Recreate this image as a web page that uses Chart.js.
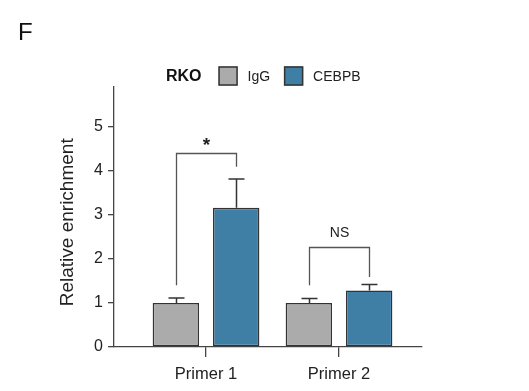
<!DOCTYPE html>
<html>
<head>
<meta charset="utf-8">
<script src="https://cdn.jsdelivr.net/npm/chart.js@4/dist/chart.umd.min.js"></script>
<style>
  html, body { margin: 0; padding: 0; background: #ffffff; }
  #wrap { width: 529px; height: 391px; position: relative; }
</style>
</head>
<body>
<div id="wrap"><canvas id="c" width="529" height="391"></canvas></div>
<script>
// ---- data ----
const panelLabel = "F";
const legendTitle = "RKO";
const categories = ["Primer 1", "Primer 2"];
const seriesNames = ["IgG", "CEBPB"];
const igg = [1.0, 1.0];
const cebpb = [3.16, 1.28];
const iggErr = [0.11, 0.10];
const cebpbErr = [0.65, 0.14];
const yTicks = [0, 1, 2, 3, 4, 5];
// brackets: [category index, left foot, top, right foot, label]
const bracketCat = [0, 1];
const bracketLeft = [1.40, 1.40];
const bracketTop = [4.40, 2.26];
const bracketRight = [4.09, 1.59];
const bracketLabel = ["*", "NS"];

const colors = ["#ababab", "#3f7fa5"];
const edge = "#333333";
const FONT = "'Liberation Sans', Arial, Helvetica, sans-serif";

const errs = [iggErr, cebpbErr];

const plugin = {
  id: 'extras',
  afterDatasetsDraw(chart) {
    const ctx = chart.ctx;
    const ys = chart.scales.y;
    ctx.save();
    // error bars
    ctx.strokeStyle = edge;
    ctx.lineWidth = 1.5;
    chart.data.datasets.forEach((ds, di) => {
      const meta = chart.getDatasetMeta(di);
      meta.data.forEach((el, i) => {
        const v = ds.data[i].y;
        const top = ys.getPixelForValue(v + errs[di][i]);
        const x = Math.round(el.x) + 0.5;
        ctx.beginPath();
        ctx.moveTo(x, el.y);
        ctx.lineTo(x, top);
        ctx.moveTo(x - 8, top);
        ctx.lineTo(x + 8, top);
        ctx.stroke();
      });
    });
    // brackets
    ctx.strokeStyle = '#555555';
    ctx.lineWidth = 1.3;
    ctx.fillStyle = '#222222';
    ctx.textAlign = 'center';
    ctx.textBaseline = 'alphabetic';
    bracketCat.forEach((ci, k) => {
      const a = chart.getDatasetMeta(0).data[ci];
      const b = chart.getDatasetMeta(1).data[ci];
      const xl = Math.round(a.x) + 0.5, xr = Math.round(b.x) + 0.5;
      const yt = Math.round(ys.getPixelForValue(bracketTop[k])) + 0.5;
      ctx.beginPath();
      ctx.moveTo(xl, ys.getPixelForValue(bracketLeft[k]));
      ctx.lineTo(xl, yt);
      ctx.lineTo(xr, yt);
      ctx.lineTo(xr, ys.getPixelForValue(bracketRight[k]));
      ctx.stroke();
      const xm = (xl + xr) / 2;
      if (bracketLabel[k] === '*') {
        ctx.font = 'bold 19px ' + FONT;
        ctx.fillText(bracketLabel[k], xm, yt - 3);
      } else {
        ctx.font = '14px ' + FONT;
        ctx.fillText(bracketLabel[k], xm, yt - 11);
      }
    });
    ctx.restore();
  },
  afterDraw(chart) {
    const ctx = chart.ctx;
    ctx.save();
    // panel label
    ctx.fillStyle = '#111111';
    ctx.font = '24px ' + FONT;
    ctx.textAlign = 'left';
    ctx.textBaseline = 'alphabetic';
    ctx.fillText(panelLabel, 18, 40);
    // legend
    const cy = 76;
    let x = 166;
    ctx.fillStyle = '#111111';
    ctx.font = 'bold 16px ' + FONT;
    ctx.textBaseline = 'middle';
    ctx.fillText(legendTitle, x, cy + 1);
    x += ctx.measureText(legendTitle).width + 17;
    ctx.font = '14px ' + FONT;
    seriesNames.forEach((name, i) => {
      ctx.fillStyle = colors[i];
      ctx.fillRect(x, cy - 9.5, 19, 19);
      ctx.strokeStyle = edge;
      ctx.lineWidth = 1.5;
      ctx.strokeRect(x + 0.5, cy - 9, 18, 18);
      x += 19 + 10;
      ctx.fillStyle = '#222222';
      ctx.fillText(name, x, cy + 1);
      x += ctx.measureText(name).width + 14;
    });
    ctx.restore();
  }
};

const datasets = [igg, cebpb].map((arr, di) => ({
  label: seriesNames[di],
  data: arr.map((v, i) => ({ x: i, y: v })),
  backgroundColor: colors[di],
  borderColor: edge,
  borderWidth: 1.5,
  borderSkipped: false,
  categoryPercentage: 0.907,
  barPercentage: 0.77
}));

new Chart(document.getElementById('c'), {
  type: 'bar',
  data: { datasets },
  plugins: [plugin],
  options: {
    responsive: false,
    animation: false,
    devicePixelRatio: 1,
    layout: { padding: { top: 87, right: 107, bottom: 0, left: 0 } },
    plugins: { legend: { display: false }, title: { display: false }, tooltip: { enabled: false } },
    scales: {
      x: {
        type: 'linear',
        offset: false,
        min: -0.692,
        max: 1.624,
        afterBuildTicks: (s) => { s.ticks = categories.map((_, i) => ({ value: i })); },
        afterFit: (s) => { s.height = 44; },
        grid: { offset: false, drawOnChartArea: false, drawTicks: true, tickLength: 10, color: '#444444', lineWidth: 1.3 },
        border: { display: true, color: '#444444', width: 1.3 },
        ticks: {
          callback: (v) => categories[v] ?? '',
          color: '#222222',
          font: { family: FONT, size: 16.5 },
          padding: 8,
          maxRotation: 0,
          autoSkip: false
        }
      },
      y: {
        min: 0,
        max: 5.9,
        afterBuildTicks: (s) => { s.ticks = yTicks.map(v => ({ value: v })); },
        afterFit: (s) => { s.width = 114; },
        grid: { drawOnChartArea: false, drawTicks: true, tickLength: 6, color: '#444444', lineWidth: 1.3 },
        border: { display: true, color: '#444444', width: 1.3 },
        ticks: {
          color: '#222222',
          font: { family: FONT, size: 16 },
          padding: 5
        },
        title: {
          display: true,
          text: 'Relative enrichment  ',
          color: '#222222',
          font: { family: FONT, size: 19 },
          padding: { top: 56, bottom: 0 }
        }
      }
    }
  }
});
</script>
</body>
</html>
